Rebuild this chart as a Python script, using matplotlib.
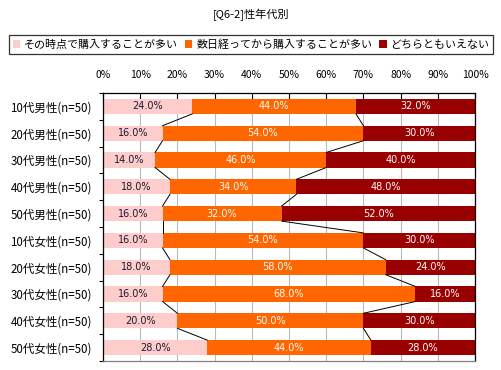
import matplotlib
matplotlib.use("Agg")
import matplotlib.pyplot as plt
import numpy as np
from matplotlib.patches import Patch

plt.rcParams['font.family'] = ['Noto Sans CJK JP', 'DejaVu Sans']

title = "[Q6-2]性年代別"
categories = ["10代男性(n=50)", "20代男性(n=50)", "30代男性(n=50)", "40代男性(n=50)", "50代男性(n=50)",
              "10代女性(n=50)", "20代女性(n=50)", "30代女性(n=50)", "40代女性(n=50)", "50代女性(n=50)"]
series_names = ["その時点で購入することが多い", "数日経ってから購入することが多い", "どちらともいえない"]
s1 = [24, 16, 14, 18, 16, 16, 18, 16, 20, 28]
s2 = [44, 54, 46, 34, 32, 54, 58, 68, 50, 44]
s3 = [32, 30, 40, 48, 52, 30, 24, 16, 30, 28]
xticks = [0, 10, 20, 30, 40, 50, 60, 70, 80, 90, 100]

colors = ["#FFCCCC", "#FF6600", "#990000"]
text_colors = ["#1a1a33", "white", "white"]

fig = plt.figure(figsize=(5.02, 3.70), dpi=100)
ax = fig.add_axes([103/502, 1-361/370, (475-103)/502, (361-93)/370])

n = len(categories)
y = np.arange(n)
h = 0.56
data = [np.array(s1), np.array(s2), np.array(s3)]
left = np.zeros(n)
for vals, col, tc in zip(data, colors, text_colors):
    ax.barh(y, vals, left=left, height=h, color=col, zorder=2)
    for yi, (l, v) in enumerate(zip(left, vals)):
        ax.text(l + v/2, yi, f"{v:.1f}%", ha='center', va='center', fontsize=7,
                color=tc, zorder=4, family=['DejaVu Sans'])
    left = left + vals

# series connector lines
c1 = np.array(s1)
c2 = np.array(s1) + np.array(s2)
for cum in (c1, c2):
    for i in range(n-1):
        ax.plot([cum[i], cum[i+1]], [i + h/2, i + 1 - h/2], color='black', lw=0.7, zorder=3)

ax.set_xlim(0, 100)
ax.set_ylim(n - 0.5, -0.5)
ax.set_xticks(xticks)
ax.set_xticklabels([f"{t}%" for t in xticks], fontsize=7.5)
ax.xaxis.tick_top()
ax.tick_params(axis='x', which='major', direction='in', length=4, width=0.8, pad=9, top=True, bottom=False)
ax.grid(axis='x', color='#BBBBBB', lw=0.8, zorder=0)
ax.set_axisbelow(True)

ax.set_yticks(y)
ax.set_yticklabels(categories, fontsize=8.3)
ax.tick_params(axis='y', which='major', length=0, pad=8)
ax.set_yticks(np.arange(n + 1) - 0.5, minor=True)
ax.tick_params(axis='y', which='minor', direction='out', length=3, width=0.8)

for s in ['top', 'left', 'right']:
    ax.spines[s].set_color('black')
    ax.spines[s].set_linewidth(0.9)
ax.spines['bottom'].set_color('#808080')
ax.spines['bottom'].set_linewidth(0.9)

fig.text(0.5, 1-15/370, title, ha='center', va='center', fontsize=8)

handles = [Patch(facecolor=c, edgecolor='none') for c in colors]
leg = fig.legend(handles, series_names, loc='center', bbox_to_anchor=(0.5, 1-44.5/370), ncol=3,
                 fontsize=7.9, frameon=True, fancybox=False, edgecolor='black',
                 handlelength=0.7, handleheight=0.7, handletextpad=0.35, columnspacing=0.6,
                 borderpad=0.35, borderaxespad=0)
leg.get_frame().set_linewidth(0.9)

fig.savefig("out.png", dpi=100)
